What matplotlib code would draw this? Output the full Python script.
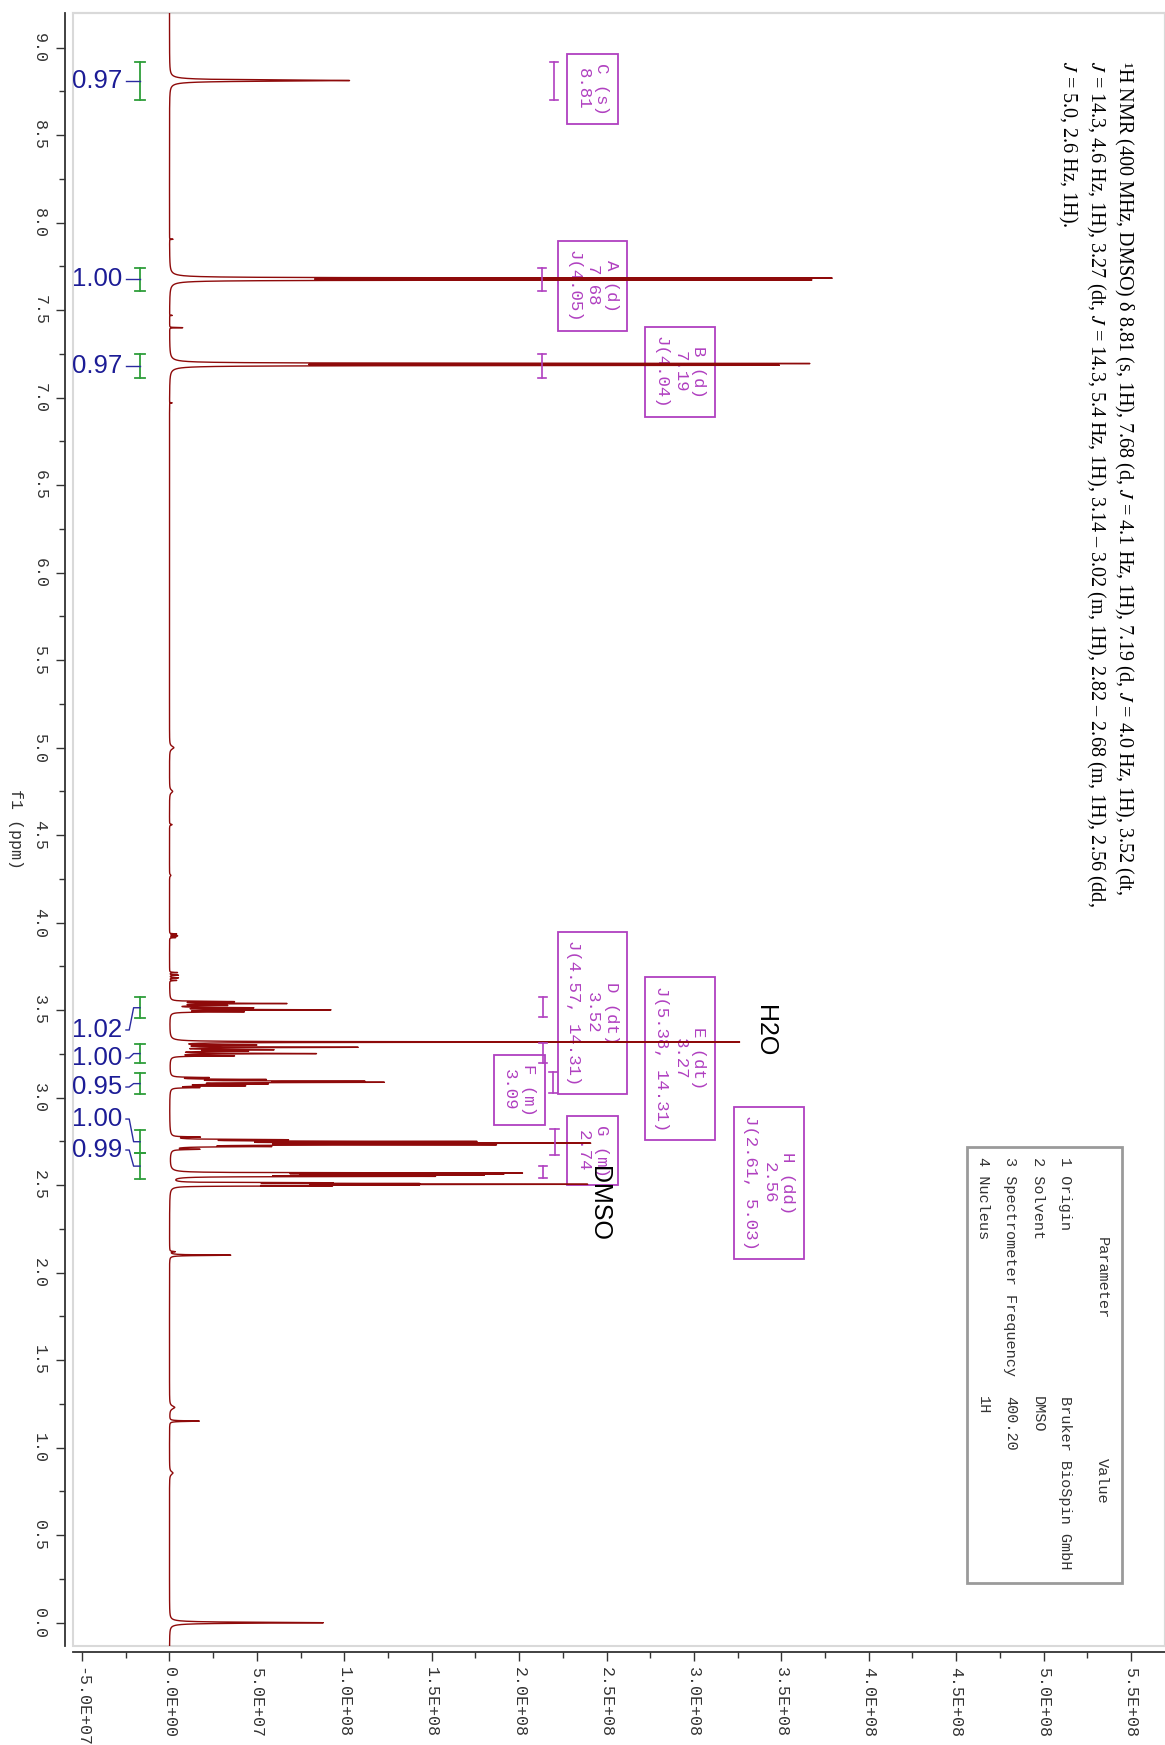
import numpy as np
import matplotlib.pyplot as plt
from matplotlib.patches import Rectangle
from matplotlib.ticker import MultipleLocator, FuncFormatter

plt.rcParams['mathtext.fontset'] = 'stix'

W, H = 1165, 1745

# peak list: position (ppm), height, half width (ppm)
peak_ppm = [8.812,                                   # C singlet
            7.683, 7.673, 7.195, 7.185,              # A, B doublets
            7.905, 7.470, 7.400, 6.970,              # small aromatic bits
            5.000, 4.750, 4.560, 4.270,              # baseline bumps
            3.935, 3.925, 3.915, 3.715, 3.700, 3.685, 3.670,
            3.549, 3.538, 3.527, 3.514, 3.502, 3.491,  # D dt
            3.318,                                   # H2O
            3.301, 3.288, 3.274, 3.266, 3.252, 3.239,  # E dt
            3.115, 3.104, 3.094, 3.088, 3.078, 3.068, 3.058,  # F m
            2.775, 2.760, 2.750, 2.740, 2.731, 2.721, 2.705,  # G m
            2.5695, 2.563, 2.557, 2.5505,            # H dd
            2.496, 2.5005, 2.505, 2.5095, 2.514,     # DMSO
            2.120, 2.100, 1.230, 1.152, 0.855, 0.000]
peak_height = [1.03e8,
               3.68e8, 3.56e8, 3.56e8, 3.38e8,
               2.0e6, 1.5e6, 7.5e6, 1.5e6,
               2.5e6, 1.8e6, 1.5e6, 0.8e6,
               4.0e6, 4.5e6, 3.5e6, 4.5e6, 5.0e6, 5.0e6, 4.0e6,
               3.5e7, 6.5e7, 3.0e7, 4.5e7, 9.0e7, 4.0e7,
               3.25e8,
               4.5e7, 1.05e8, 5.5e7, 4.0e7, 8.2e7, 3.5e7,
               2.0e7, 5.0e7, 1.0e8, 1.12e8, 5.0e7, 4.0e7, 1.5e7,
               1.5e7, 6.0e7, 1.65e8, 2.28e8, 1.75e8, 5.0e7, 1.5e7,
               1.9e8, 1.7e8, 1.6e8, 1.4e8,
               8.0e7, 1.2e8, 2.2e8, 1.2e8, 8.0e7,
               3.0e6, 3.5e7, 3.0e6, 1.7e7, 2.0e6, 8.8e7]
peak_hw = [0.004,
           0.0018, 0.0018, 0.0018, 0.0018,
           0.001, 0.001, 0.001, 0.001,
           0.01, 0.01, 0.003, 0.005,
           0.0015, 0.0015, 0.0015, 0.0015, 0.0015, 0.0015, 0.0015,
           0.0018, 0.0018, 0.0018, 0.0018, 0.0018, 0.0018,
           0.0015,
           0.0018, 0.0018, 0.0018, 0.0018, 0.0018, 0.0018,
           0.0018, 0.0018, 0.0018, 0.0018, 0.0018, 0.0018, 0.0018,
           0.0018, 0.0018, 0.0018, 0.0018, 0.0018, 0.0018, 0.0018,
           0.0015, 0.0015, 0.0015, 0.0015,
           0.0012, 0.0012, 0.0012, 0.0012, 0.0012,
           0.002, 0.002, 0.01, 0.002, 0.01, 0.003]

# integrals
integ_lo = [8.701, 7.610, 7.113, 3.455, 3.197, 3.020, 2.683, 2.535]
integ_hi = [8.918, 7.741, 7.250, 3.573, 3.307, 3.141, 2.814, 2.683]
integ_val = [0.97, 1.00, 0.97, 1.02, 1.00, 0.95, 1.00, 0.99]

# multiplet annotations
mult_lo = [8.701, 7.610, 7.113, 3.459, 3.198, 3.029, 2.670, 2.541]
mult_hi = [8.918, 7.741, 7.250, 3.577, 3.313, 3.149, 2.820, 2.611]
mult_text = ["C (s)\n8.81", "A (d)\n7.68\nJ(4.05)", "B (d)\n7.19\nJ(4.04)",
             "D (dt)\n3.52\nJ(4.57, 14.31)", "E (dt)\n3.27\nJ(5.38, 14.31)",
             "F (m)\n3.09", "G (m)\n2.74", "H (dd)\n2.56\nJ(2.61, 5.03)"]

params = ["1 Origin", "2 Solvent", "3 Spectrometer Frequency", "4 Nucleus"]
values = ["Bruker BioSpin GmbH", "DMSO", "400.20", "1H"]

desc = ("¹H NMR (400 MHz, DMSO) δ 8.81 (s, 1H), 7.68 (d, $J$ = 4.1 Hz, 1H), 7.19 (d, $J$ = 4.0 Hz, 1H), 3.52 (dt,\n"
        "$J$ = 14.3, 4.6 Hz, 1H), 3.27 (dt, $J$ = 14.3, 5.4 Hz, 1H), 3.14 – 3.02 (m, 1H), 2.82 – 2.68 (m, 1H), 2.56 (dd,\n"
        "$J$ = 5.0, 2.6 Hz, 1H).")

# build spectrum from the peak list (lorentzian lines)
ppm = np.linspace(-0.14, 9.21, 60000)
spec = np.zeros_like(ppm)
for p, h, w in zip(peak_ppm, peak_height, peak_hw):
    spec += h * w**2 / ((ppm - p)**2 + w**2)

fig = plt.figure(figsize=(W / 100, H / 100), dpi=100)
ax = fig.add_axes([73 / W, 1 - 1646 / H, 1 - 73 / W, (1646 - 13) / H])

ax.plot(spec, ppm, color='#8e0a0a', lw=1.0, zorder=3)
ax.set_xlim(-5.52e7, 5.695e8)
ax.set_ylim(-0.133, 9.198)

# axes look
for s in ['top', 'right']:
    ax.spines[s].set_color('#d9d9d9')
    ax.spines[s].set_linewidth(1.5)
ax.spines['left'].set_position(('outward', 6))
ax.spines['bottom'].set_position(('outward', 4.5))
for s in ['left', 'bottom']:
    ax.spines[s].set_color('#333333')
    ax.spines[s].set_linewidth(1.3)
ax.add_patch(Rectangle((0, 0), 1, 1, transform=ax.transAxes, fill=False,
                       ec='#d9d9d9', lw=1.5, clip_on=False, zorder=0))

ax.yaxis.set_major_locator(MultipleLocator(0.5))
ax.yaxis.set_minor_locator(MultipleLocator(0.25))
ax.xaxis.set_major_locator(MultipleLocator(5e7))
ax.xaxis.set_minor_locator(MultipleLocator(2.5e7))
ax.yaxis.set_major_formatter(FuncFormatter(lambda v, pos: f"{v:.1f}"))
ax.xaxis.set_major_formatter(FuncFormatter(lambda v, pos: f"{v:.1E}"))
ax.tick_params(which='major', length=6.5, width=1, color='#333333')
ax.tick_params(which='minor', length=4.5, width=1, color='#333333')
ax.tick_params(axis='y', labelrotation=-90, labelsize=12, pad=6, labelcolor='#333333')
ax.tick_params(axis='x', labelrotation=-90, labelsize=12, pad=4, labelcolor='#333333')
for lab in ax.get_yticklabels():
    lab.set_family('Liberation Mono')
    lab.set_va('center')
for lab in ax.get_xticklabels():
    lab.set_family('Liberation Mono')
    lab.set_ha('center')
    lab.set_va('top')

fig.text(15 / W, 1 - 829 / H, "f1 (ppm)", rotation=-90, ha='center', va='center',
         family='Liberation Mono', fontsize=12, color='#333333')

# integrals
yax = ax.get_yaxis_transform()
label_ppm = [None, None, None, 3.387, 3.227, 3.061, 2.878, 2.701]
for lo, hi, v, lp in zip(integ_lo, integ_hi, integ_val, label_ppm):
    yc = (lo + hi) / 2
    yl = yc if lp is None else lp
    ax.plot([0.0614, 0.0614], [lo, hi], color='#2e9e3a', lw=1.3, transform=yax, zorder=4)
    for e in (lo, hi):
        ax.plot([0.0568, 0.066], [e, e], color='#2e9e3a', lw=1.3, transform=yax, zorder=4)
    if lp is None:
        ax.plot([0.0485, 0.0614], [yc, yc], color='#2a2aa0', lw=1, transform=yax, zorder=4)
    else:
        ax.plot([0.0485, 0.0515, 0.0555, 0.0614], [yl, yl, yc, yc], color='#2a2aa0', lw=1,
                transform=yax, zorder=4)
    ax.text(0.0449, yl, f"{v:.2f}", transform=yax, ha='right', va='center',
            family='Liberation Sans', fontsize=18.5, color='#1c1c96')

# multiplet annotations
purple = '#b040c0'
bracket_x = [0.4405, 0.4295, 0.4295, 0.4305, 0.4305, 0.4395, 0.441, 0.4305]
box_pos = [(2.42e8, 8.764), (2.42e8, 7.638), (2.92e8, 7.147), (2.42e8, 3.484),
           (2.92e8, 3.224), (2.0e8, 3.044), (2.42e8, 2.698), (3.43e8, 2.514)]
for lo, hi, t, bx, (tx, ty) in zip(mult_lo, mult_hi, mult_text, bracket_x, box_pos):
    ax.plot([bx, bx], [lo, hi], color=purple, lw=1.2, transform=yax, zorder=4)
    for e in (lo, hi):
        ax.plot([bx - 0.004, bx + 0.004], [e, e], color=purple, lw=1.2, transform=yax, zorder=4)
    ax.text(tx, ty, t, rotation=-90, ha='center', va='center', multialignment='center',
            family='Liberation Mono', fontsize=12.5, color=purple, linespacing=1.3, zorder=2,
            bbox=dict(boxstyle='square,pad=0.5', fc='none', ec=purple, lw=1.3))

# solvent labels
ax.text(3.34e8, 3.381, "H2O", rotation=-90, ha='left', va='center',
        family='Liberation Sans', fontsize=18, color='black')
ax.text(2.39e8, 2.398, "DMSO", rotation=-90, ha='left', va='center',
        family='Liberation Sans', fontsize=18, color='black')

# description text
fig.text(1135 / W, 1 - 61 / H, desc, rotation=-90, ha='right', va='top', multialignment='left',
         family='Liberation Serif', fontsize=14.5, linespacing=1.3, color='black')

# parameter table
fig.add_artist(Rectangle((967 / W, 1 - 1583 / H), (1122 - 967) / W, (1583 - 1147) / H,
                         transform=fig.transFigure, fill=False, ec='#9a9a9a', lw=2))
tkw = dict(rotation=-90, family='Liberation Mono', fontsize=11, color='#333333')
fig.text(1102 / W, 1 - 1278 / H, "Parameter", ha='center', va='center', **tkw)
fig.text(1102 / W, 1 - 1481 / H, "Value", ha='center', va='center', **tkw)
for i, (p, v) in enumerate(zip(params, values)):
    cx = (1065 - 27.3 * i) / W
    fig.text(cx, 1 - 1157 / H, p, ha='center', va='top', **tkw)
    fig.text(cx, 1 - 1396 / H, v, ha='center', va='top', **tkw)

fig.savefig('out.png', dpi=100, facecolor='white')
